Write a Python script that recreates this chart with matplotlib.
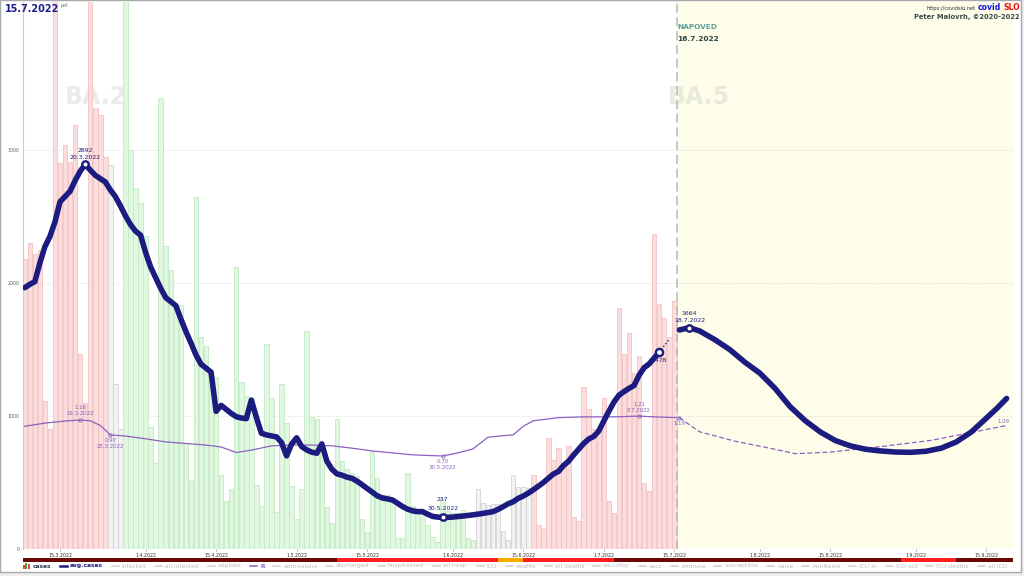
import datetime as dt
import matplotlib
matplotlib.use("Agg")
import matplotlib.pyplot as plt
import matplotlib.dates as mdates
import matplotlib.transforms as mtransforms
from matplotlib.lines import Line2D
from matplotlib.patches import Rectangle

# ---------------- data ----------------
cases_start = dt.date(2022, 3, 8)
cases = [
    2180, 2300, 2220, 2245, 1113, 902,          # 8.3 - 13.3
    4400, 2900, 3040, 2910, 3190, 1470, 1100,   # 14.3 - 20.3
    4400, 3318, 3265, 2950, 2886, 1244, 902,    # 21.3 - 27.3
    4400, 3000, 2717, 2600, 2351, 920, 650,     # 28.3 - 3.4
    3391, 2280, 2100, 1834, 1834, 800, 517,     # 4.4 - 10.4
    2648, 1596, 1530, 1300, 1297, 555, 364,     # 11.4 - 17.4
    449, 2120, 1252, 1151, 1138, 483, 325,      # 18.4 - 24.4
    1538, 1132, 276, 1244, 947, 475, 226,       # 25.4 - 1.5
    449, 1636, 992, 978, 793, 316, 192,         # 2.5 - 8.5
    978, 662, 599, 569, 549, 223, 130,          # 9.5 - 15.5
    732, 531, 406, 406, 381, 80, 80,            # 16.5 - 22.5
    569, 323, 293, 281, 180, 88, 55,            # 23.5 - 29.5
    376, 286, 268, 268, 293, 80, 68,            # 30.5 - 5.6
    451, 343, 331, 338, 338, 135, 68,           # 6.6 - 12.6
    556, 469, 464, 456, 556, 180, 155,          # 13.6 - 19.6
    837, 669, 757, 606, 774, 243, 210,          # 20.6 - 26.6
    1220, 1053, 900, 880, 1133, 361, 268,       # 27.6 - 3.7
    1814, 1464, 1621, 1321, 1451, 494, 439,     # 4.7 - 10.7
    2368, 1839, 1739, 1596, 1864,               # 11.7 - 15.7
]
# trend colouring of the bars (run starts)
trend_start = [dt.date(2022, 3, 8), dt.date(2022, 3, 25), dt.date(2022, 3, 28),
               dt.date(2022, 6, 6), dt.date(2022, 6, 17)]
trend_kind = ["up", "flat", "down", "flat", "up"]

# 7-day average (centered), 8.3 - 12.7
avg_start = dt.date(2022, 3, 8)
avg_cases = [
    1965, 1990, 2010, 2150, 2273, 2350,
    2460, 2611, 2650, 2690, 2770, 2840, 2892,
    2850, 2810, 2785, 2760, 2700, 2650, 2580,
    2505, 2440, 2390, 2360, 2230, 2120, 2040,
    1960, 1890, 1860, 1830, 1730, 1635, 1550,
    1460, 1390, 1360, 1330, 1035, 1080, 1050,
    1020, 995, 985, 980, 1120, 990, 870,
    858, 850, 843, 800, 700, 790, 836,
    770, 745, 728, 720, 790, 660, 600,
    565, 555, 540, 531, 510, 483, 455,
    428, 400, 384, 377, 369, 345, 320,
    300, 287, 281, 281, 262, 245, 240,
    237, 238, 240, 244, 248, 252, 257,
    262, 268, 274, 281, 298, 318, 340,
    355, 381, 398, 420, 445, 472, 500,
    532, 564, 583, 628, 660, 707, 750,
    793, 827, 846, 887, 962, 1035, 1104,
    1156, 1183, 1208, 1229, 1306, 1363, 1391,
    1436, 1478,
]
# incomplete tail (dotted)
tail_dates = [dt.date(2022, 7, 12), dt.date(2022, 7, 13), dt.date(2022, 7, 14)]
tail_cases = [1478, 1528, 1577]

# forecast ("napoved")
fc_dates = [dt.date(2022, 7, 16), dt.date(2022, 7, 18), dt.date(2022, 7, 20), dt.date(2022, 7, 23),
            dt.date(2022, 7, 26), dt.date(2022, 7, 29), dt.date(2022, 8, 1), dt.date(2022, 8, 4),
            dt.date(2022, 8, 7), dt.date(2022, 8, 10), dt.date(2022, 8, 13), dt.date(2022, 8, 16),
            dt.date(2022, 8, 19), dt.date(2022, 8, 22), dt.date(2022, 8, 25), dt.date(2022, 8, 28),
            dt.date(2022, 8, 31), dt.date(2022, 9, 3), dt.date(2022, 9, 6), dt.date(2022, 9, 9),
            dt.date(2022, 9, 12), dt.date(2022, 9, 15), dt.date(2022, 9, 17), dt.date(2022, 9, 19)]
fc_cases = [1647, 1664, 1640, 1575, 1500, 1405, 1322, 1208, 1070, 965, 880, 815,
            775, 750, 737, 729, 727, 735, 758, 805, 880, 985, 1055, 1132]

# reproduction number R
r_dates = [dt.date(2022, 3, 8), dt.date(2022, 3, 12), dt.date(2022, 3, 16), dt.date(2022, 3, 19),
           dt.date(2022, 3, 21), dt.date(2022, 3, 23), dt.date(2022, 3, 25), dt.date(2022, 3, 28),
           dt.date(2022, 4, 1), dt.date(2022, 4, 5), dt.date(2022, 4, 9), dt.date(2022, 4, 13),
           dt.date(2022, 4, 16), dt.date(2022, 4, 19), dt.date(2022, 4, 22), dt.date(2022, 4, 26),
           dt.date(2022, 4, 30), dt.date(2022, 5, 4), dt.date(2022, 5, 8), dt.date(2022, 5, 12),
           dt.date(2022, 5, 16), dt.date(2022, 5, 20), dt.date(2022, 5, 24), dt.date(2022, 5, 30),
           dt.date(2022, 6, 2), dt.date(2022, 6, 5), dt.date(2022, 6, 8), dt.date(2022, 6, 11),
           dt.date(2022, 6, 13), dt.date(2022, 6, 15), dt.date(2022, 6, 17), dt.date(2022, 6, 22),
           dt.date(2022, 6, 27), dt.date(2022, 7, 3), dt.date(2022, 7, 8), dt.date(2022, 7, 11),
           dt.date(2022, 7, 16)]
r_vals = [1.08, 1.12, 1.147, 1.16, 1.15, 1.09, 0.97, 0.955, 0.92, 0.88, 0.86, 0.84,
          0.815, 0.745, 0.775, 0.83, 0.84, 0.84, 0.83, 0.80, 0.765, 0.74, 0.715, 0.70,
          0.74, 0.79, 0.94, 0.96, 0.97, 1.08, 1.15, 1.19, 1.20, 1.20, 1.21, 1.20, 1.19]
r_fc_dates = [dt.date(2022, 7, 16), dt.date(2022, 7, 20), dt.date(2022, 7, 27), dt.date(2022, 8, 3),
              dt.date(2022, 8, 8), dt.date(2022, 8, 15), dt.date(2022, 8, 25), dt.date(2022, 9, 4),
              dt.date(2022, 9, 12), dt.date(2022, 9, 19)]
r_fc_vals = [1.19, 1.01, 0.89, 0.80, 0.73, 0.75, 0.82, 0.90, 1.00, 1.09]

# status strip under the x axis (run starts)
strip_start = [dt.date(2022, 3, 7), dt.date(2022, 5, 9), dt.date(2022, 6, 10), dt.date(2022, 6, 15),
               dt.date(2022, 7, 3), dt.date(2022, 8, 29), dt.date(2022, 9, 9)]
strip_kind = ["dark", "red", "orange", "red", "dark", "red", "dark"]
strip_end = dt.date(2022, 9, 21)

tick_dates = [dt.date(2022, 3, 15), dt.date(2022, 4, 1), dt.date(2022, 4, 15), dt.date(2022, 5, 1),
              dt.date(2022, 5, 15), dt.date(2022, 6, 1), dt.date(2022, 6, 15), dt.date(2022, 7, 1),
              dt.date(2022, 7, 15), dt.date(2022, 8, 1), dt.date(2022, 8, 15), dt.date(2022, 9, 1),
              dt.date(2022, 9, 15)]
y_ticks = [0, 1000, 2000, 3000]

forecast_from = dt.datetime(2022, 7, 15, 12)
legend_names = ["cases", "avg.cases", "infected", "all infected", "odplake", "R", "admissions",
                "discharged", "hospitalized", "all hosp.", "ICU", "deaths", "all deaths", "vacc/day",
                "vacc", "immune", "susceptible", "naive", "nonNaive", "ICU in", "ICU out",
                "ICU deaths", "all ICU"]

# ---------------- styles ----------------
NAVY = "#1b1b80"
PURPLE = "#8e5fc2"
bar_fill = {"up": "#fcdddd", "flat": "#f2f2f2", "down": "#e0f8e0"}
bar_edge = {"up": "#f2c2c2", "flat": "#d4d4d4", "down": "#c4eac4"}
strip_col = {"dark": "#6a0808", "red": "#ff1c1c", "orange": "#ffaa00"}

W, H = 1024, 576
def fx(x):
    return x / W
def fy(y):
    return 1 - y / H

fig = plt.figure(figsize=(10.24, 5.76), dpi=100, facecolor="#eeeeee")
fig.patches.append(Rectangle((0, fy(572)), fx(1021), 1 - fy(572), transform=fig.transFigure,
                             facecolor="white", edgecolor="#a8a8a8", lw=1, zorder=-5))

x_left = dt.datetime(2022, 3, 7, 15, 38)
x_right = dt.datetime(2022, 9, 20, 5, 0)

ax = fig.add_axes([fx(23), fy(549), fx(1012.7) - fx(23), fy(2) - fy(549)])
ax.set_xlim(x_left, x_right)
ax.set_ylim(0, 4113)

# forecast background + divider
ax.axvspan(forecast_from, x_right, color="#fdfdea", zorder=0, lw=0)
ax.axvline(forecast_from, color="#b8b8b8", ls=(0, (6, 3)), lw=1.1, zorder=4)

# bars
bar_dates = [cases_start + dt.timedelta(days=i) for i in range(len(cases))]
fills, edges = [], []
for d in bar_dates:
    k = [kind for s, kind in zip(trend_start, trend_kind) if s <= d][-1]
    fills.append(bar_fill[k])
    edges.append(bar_edge[k])
ax.bar(bar_dates, cases, width=0.9, color=fills, edgecolor=edges, linewidth=0.6, zorder=2)

# R line (own scale mapped on the case axis)
r_tr = mtransforms.blended_transform_factory(
    ax.transData, mtransforms.Affine2D().scale(1, 588.7).translate(0, 287.1) + ax.transData)
ax.plot(r_dates, r_vals, color=PURPLE, lw=0.9, transform=r_tr, zorder=3)
ax.plot(r_fc_dates, r_fc_vals, color=PURPLE, lw=0.9, ls=(0, (4, 2)), transform=r_tr, zorder=3)

# average cases + forecast
avg_dates = [avg_start + dt.timedelta(days=i) for i in range(len(avg_cases))]
ax.plot(avg_dates, avg_cases, color=NAVY, lw=4.0, solid_joinstyle="round",
        solid_capstyle="round", zorder=5)
ax.plot(tail_dates, tail_cases, color=NAVY, lw=1.0, ls=(0, (1, 1.5)), zorder=5)
ax.plot(fc_dates, fc_cases, color=NAVY, lw=4.0, solid_joinstyle="round",
        solid_capstyle="round", zorder=5)


def fmt(d):
    return f"{d.day}.{d.month}.{d.year}"


# annotations on the average line
def mark_avg(d, v, lines, above, ms=4.6, step=7.3, first=7):
    ax.plot([d], [v], "o", ms=ms, mfc="white", mec=NAVY, mew=1.7, zorder=6)
    for i, txt in enumerate(lines):
        off = (first + step * (len(lines) - 1 - i)) if above else -(8.5 + 7 * i)
        ax.annotate(txt, (mdates.date2num(d), v), xytext=(0, off * 0.72), textcoords="offset points",
                    ha="center", va="center", fontsize=4.4, color=NAVY, zorder=7)


i_peak = avg_cases.index(max(avg_cases))
mark_avg(avg_dates[i_peak], avg_cases[i_peak], [str(avg_cases[i_peak]), fmt(avg_dates[i_peak])], True)
i_min = avg_cases.index(min(avg_cases[60:]), 60)
mark_avg(avg_dates[i_min], avg_cases[i_min], [str(avg_cases[i_min]), fmt(avg_dates[i_min])], True,
         step=9, first=9)
mark_avg(avg_dates[-1], avg_cases[-1], [str(avg_cases[-1])], False, ms=5.2)
i_fc = fc_cases.index(max(fc_cases))
mark_avg(fc_dates[i_fc], fc_cases[i_fc], [str(fc_cases[i_fc]), fmt(fc_dates[i_fc])], True)


# annotations on R
def mark_r(d, v, with_date, above):
    xd = mdates.date2num(d)
    ax.plot([xd], [v], "o", ms=2.3, mfc="none", mec=PURPLE, mew=0.6, transform=r_tr, zorder=4)
    lines = [f"{v:.2f}"] + ([fmt(d)] if with_date else [])
    for i, txt in enumerate(lines):
        off = (6 + 6 * (len(lines) - 1 - i)) if above else -(5.7 + 6 * i)
        ax.annotate(txt, (xd, v), xycoords=r_tr, xytext=(0, off * 0.72), textcoords="offset points",
                    ha="center", va="center", fontsize=3.9, color=PURPLE, zorder=7)


mark_r(r_dates[3], r_vals[3], True, True)
mark_r(r_dates[6], r_vals[6], True, False)
mark_r(r_dates[23], r_vals[23], True, False)
mark_r(r_dates[34], r_vals[34], True, True)
mark_r(r_dates[-1], r_vals[-1], False, False)
ax.annotate(f"{r_fc_vals[-1]:.2f}", (mdates.date2num(r_fc_dates[-1]), r_fc_vals[-1]), xycoords=r_tr,
            xytext=(-2, 4.3 * 0.72), textcoords="offset points", ha="center", va="center",
            fontsize=3.9, color=PURPLE, zorder=7)

# axes cosmetics
ax.set_xticks(tick_dates)
ax.set_xticklabels([fmt(d) for d in tick_dates], fontsize=3.4, color="#333333")
ax.set_yticks(y_ticks)
ax.set_yticklabels([str(v) for v in y_ticks], fontsize=3.4, color="#4d6666")
ax.tick_params(axis="x", length=1.5, width=0.5, color="#888888", pad=1.2)
ax.tick_params(axis="y", length=0, pad=2.2)
ax.yaxis.grid(True, color="#d6d6d6", ls=(0, (1, 1.5)), lw=0.6)
ax.set_axisbelow(True)
for s in ["top", "right", "bottom"]:
    ax.spines[s].set_visible(False)
ax.spines["left"].set_color("#cccccc")
ax.spines["left"].set_linewidth(0.8)

# variant labels
ax.text(fx(65), fy(97), "BA.2", transform=fig.transFigure, fontsize=17, weight="bold",
        color="#ebebeb", va="center", ha="left", zorder=1)
ax.text(fx(668), fy(97), "BA.5", transform=fig.transFigure, fontsize=17, weight="bold",
        color="#e9e9dc", va="center", ha="left", zorder=1)

# status strip
axs = fig.add_axes([fx(23), fy(561.5), fx(1012.7) - fx(23), 3.5 / H])
axs.set_xlim(x_left, x_right)
axs.set_ylim(0, 1)
bounds = strip_start + [strip_end]
for i, k in enumerate(strip_kind):
    axs.axvspan(bounds[i], bounds[i + 1], color=strip_col[k], lw=0)
axs.axis("off")

# header texts
fig.text(fx(5), fy(9), "15.7.2022", fontsize=6.9, weight="bold", color="#1c1c8c", va="center")
fig.text(fx(61), fy(5), "pet", fontsize=3.4, color="#777777", va="center")
fig.text(fx(1020), fy(8), "SLO", fontsize=5.6, weight="bold", color="#ee1111", ha="right", va="center")
fig.text(fx(1001), fy(8), "covid", fontsize=5.6, weight="bold", color="#1515e0", ha="right", va="center")
fig.text(fx(976), fy(8.5), "https://covidslo.net", fontsize=3.7, color="#333333", ha="right", va="center")
fig.text(fx(1020), fy(17.5), "Peter Malovrh, \u00a92020-2022", fontsize=4.9, weight="bold",
         color="#3b4b4b", ha="right", va="center")
fig.text(fx(677), fy(27), "NAPOVED", fontsize=5.3, weight="bold", color="#5f9f9f", va="center")
fig.text(fx(677), fy(39), fmt(dt.date(2022, 7, 16)), fontsize=5.3, weight="bold",
         color="#2a4242", va="center")

# legend row
renderer = fig.canvas.get_renderer()
ly = fy(566)
texts = []
for name in legend_names:
    if name == "avg.cases":
        col, wt = NAVY, "bold"
    elif name == "R":
        col, wt = PURPLE, "bold"
    elif name == "cases":
        col, wt = "#2d3d55", "bold"
    else:
        col, wt = "#bcbcbc", "normal"
    texts.append(fig.text(0, ly, name, fontsize=4.3, color=col, weight=wt, va="center"))
widths = [t.get_window_extent(renderer).width for t in texts]
icon, gap1 = 7, 3
gap2 = (1007 - 23 - sum(widths) - len(texts) * (icon + gap1)) / (len(texts) - 1)
x = 23
for name, t, w in zip(legend_names, texts, widths):
    if name == "cases":
        for j, c in enumerate(["#e04848", "#3aae3a", "#e04848"]):
            hgt = [4, 6, 5][j]
            fig.patches.append(Rectangle((fx(x + j * 2.4), fy(569)), fx(1.9), hgt / H,
                                         transform=fig.transFigure, color=c, lw=0))
    else:
        col = NAVY if name == "avg.cases" else PURPLE if name == "R" else "#cfcfcf"
        lw = 1.8 if name == "avg.cases" else 1.1
        fig.add_artist(Line2D([fx(x), fx(x + icon)], [ly, ly], transform=fig.transFigure,
                              color=col, lw=lw))
    t.set_x(fx(x + icon + gap1))
    x += icon + gap1 + w + gap2

fig.savefig("out.png", dpi=100, facecolor=fig.get_facecolor())
